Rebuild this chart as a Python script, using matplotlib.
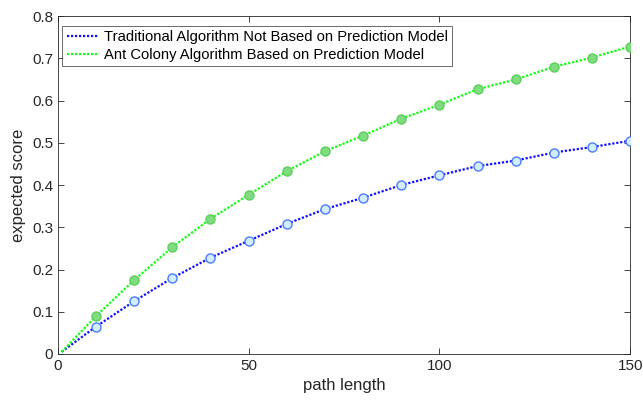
import matplotlib
matplotlib.use("Agg")
import matplotlib.pyplot as plt

x = [1, 10, 20, 30, 40, 50, 60, 70, 80, 90, 100, 110, 120, 130, 140, 150]
traditional = [0.005, 0.065, 0.125, 0.18, 0.228, 0.268, 0.308, 0.343, 0.37, 0.40,
               0.423, 0.445, 0.458, 0.477, 0.49, 0.505]
ant_colony = [0.005, 0.09, 0.175, 0.253, 0.32, 0.377, 0.433, 0.48, 0.517, 0.557,
              0.59, 0.627, 0.65, 0.68, 0.702, 0.728]
labels = ["Traditional Algorithm Not Based on Prediction Model",
          "Ant Colony Algorithm Based on Prediction Model"]

plt.rcParams['font.family'] = ['Liberation Sans', 'DejaVu Sans']
fig = plt.figure(figsize=(6.43, 4.03), dpi=100)
ax = fig.add_axes([0.090, 0.1216, 0.890, 0.8384])

dots = (0, (1, 0.8))
ax.plot(x, traditional, linestyle=dots, color='#1010ff', linewidth=1.6, label=labels[0], zorder=3)
ax.plot(x[1:], traditional[1:], linestyle='none', marker='o', markersize=6.5,
        markerfacecolor='#d4ecff', markeredgecolor='#4a7dff', markeredgewidth=1.0, zorder=4)
ax.plot(x, ant_colony, linestyle=dots, color='#10ff10', linewidth=1.6, label=labels[1], zorder=3)
ax.plot(x[1:], ant_colony[1:], linestyle='none', marker='o', markersize=6.5,
        markerfacecolor='#80dc80', markeredgecolor='#5ccf5c', markeredgewidth=1.0, zorder=4)

ax.set_xlim(0, 150)
ax.set_ylim(0, 0.8)
ax.set_xticks([0, 50, 100, 150])
ax.set_yticks([0, 0.1, 0.2, 0.3, 0.4, 0.5, 0.6, 0.7, 0.8])
ax.set_yticklabels(['0', '0.1', '0.2', '0.3', '0.4', '0.5', '0.6', '0.7', '0.8'])
ax.tick_params(direction='in', length=4, colors='#262626', labelsize=11, top=True, right=True, width=0.6)
for s in ax.spines.values():
    s.set_color('#262626')
    s.set_linewidth(0.6)
ax.set_xlabel('path length', fontsize=12, color='#262626')
ax.set_ylabel('expected score', fontsize=12, color='#262626')

leg = ax.legend(loc='upper left', bbox_to_anchor=(0.0, 0.985), fontsize=10.6, frameon=True,
                fancybox=False, edgecolor='#262626', handlelength=2.2, handletextpad=0.3,
                borderpad=0.3, labelspacing=0.25, borderaxespad=0.3)
leg.get_frame().set_linewidth(0.6)

fig.savefig('out.png', dpi=100)
